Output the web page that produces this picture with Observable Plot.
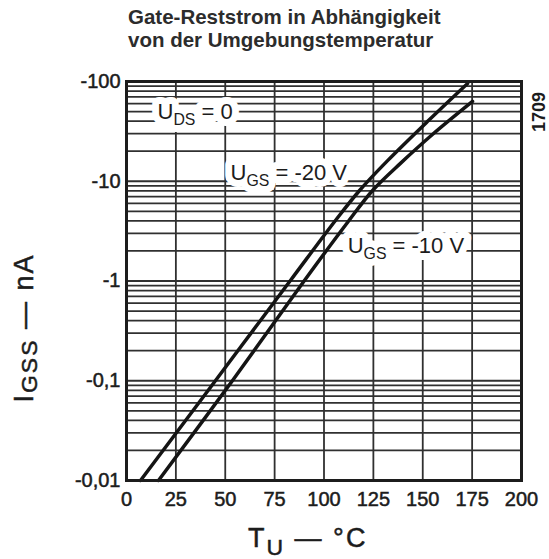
<!DOCTYPE html>
<html>
<head>
<meta charset="utf-8">
<script src="https://cdn.jsdelivr.net/npm/d3@7"></script>
<script src="https://cdn.jsdelivr.net/npm/@observablehq/plot@0.6"></script>
<style>
  html, body { margin: 0; padding: 0; background: #ffffff; }
  #chart svg { display: block; }
</style>
</head>
<body>
<div id="chart"></div>
<script>
// ---- Data ----
// Curve U_GS = -20 V
const temp20 = [7.1, 45.1, 83.0, 105.8, 118.0, 132.2, 152.9, 172.7];
const igss20 = [-0.01, -0.1006, -1.012, -4.04, -8.08, -16.1, -40.6, -95.5];
// Curve U_GS = -10 V
const temp10 = [16.2, 53.7, 90.1, 111.9, 124.6, 138.7, 154.9, 175.2];
const igss10 = [-0.01, -0.1006, -1.012, -3.86, -8.08, -15.1, -29.4, -63.1];

// Axis ticks
const xTicks = [0, 25, 50, 75, 100, 125, 150, 175, 200];
const yTicks = [-0.01, -0.1, -1, -10, -100];
const yTickLabels = ["-0,01", "-0,1", "-1", "-10", "-100"];

// In-chart labels (data coordinates)
const labelText = ["U_DS = 0", "U_GS = -20 V", "U_GS = -10 V"];
const labelTemp = [15.7, 52.7, 112];
const labelIgss = [-49, -12.2, -2.27];

// Texts
const titleLines = ["Gate-Reststrom in Abhängigkeit", "von der Umgebungstemperatur"];
const figNumber = "1709";

// ---- Build tables ----
const curve20 = temp20.map((t, i) => ({t, v: igss20[i]}));
const curve10 = temp10.map((t, i) => ({t, v: igss10[i]}));
const labels = labelText.map((s, i) => ({s, t: labelTemp[i], v: labelIgss[i]}));
const yFmt = new Map(yTicks.map((v, i) => [v, yTickLabels[i]]));
const yGrid = d3.scaleLog().domain([-0.01, -100]).ticks();

const ink = "#1c1c1c";
const gridInk = "#303030";
const font = "'Liberation Sans', Arial, sans-serif";

const svg = Plot.plot({
  width: 549,
  height: 559,
  marginTop: 81,
  marginBottom: 79,
  marginLeft: 126,
  marginRight: 28,
  style: {fontFamily: font, color: ink, background: "#ffffff"},
  x: {domain: [0, 200]},
  y: {type: "log", domain: [-0.01, -100]},
  marks: [
    Plot.ruleY(yGrid, {stroke: gridInk, strokeWidth: 1.8}),
    Plot.ruleX(xTicks, {stroke: gridInk, strokeWidth: 1.8}),
    Plot.text(labels, {x: "t", y: "v", text: "s", textAnchor: "start", fontSize: 22,
      fill: "white", stroke: "white", strokeWidth: 14, strokeLinejoin: "round"}),
    Plot.line(curve20, {x: "t", y: "v", curve: "catmull-rom", stroke: "#141414", strokeWidth: 3.5}),
    Plot.line(curve10, {x: "t", y: "v", curve: "catmull-rom", stroke: "#141414", strokeWidth: 3.5}),
    Plot.text(labels, {x: "t", y: "v", text: "s", textAnchor: "start", fontSize: 22, fill: ink}),
    Plot.frame({stroke: ink, strokeWidth: 3}),
    Plot.axisX(xTicks, {tickSize: 0, tickPadding: 11, fontSize: 20, label: null}),
    Plot.axisY(yTicks, {tickSize: 0, tickPadding: 6, fontSize: 20, label: null,
      tickFormat: d => yFmt.get(d)})
  ]
});

const root = d3.select(svg);

// Subscripts for labels of the form "U_GS = ..."
root.selectAll("text").each(function () {
  const t = this.textContent;
  const m = t.match(/^(.)_([A-Z]+)(.*)$/);
  if (m) {
    const s = d3.select(this);
    s.text(null);
    s.append("tspan").text(m[1]);
    s.append("tspan").attr("dy", 6).attr("font-size", "72%").text(m[2]);
    s.append("tspan").attr("dy", -6).text(m[3]);
  }
});

// Slightly heavier tick labels, like the printed original
root.selectAll("g[aria-label='x-axis tick label'], g[aria-label='y-axis tick label']")
  .attr("stroke", ink).attr("stroke-width", 0.5);

// Title (two lines)
const title = root.append("g")
  .attr("font-family", font).attr("text-anchor", "start")
  .attr("font-weight", "bold").attr("font-size", 20.5).attr("fill", "#2c2c2c");
titleLines.forEach((line, i) => {
  title.append("text").attr("x", 128).attr("y", 24 + i * 23).text(line);
});

// X axis label: T_U — °C
const xl = root.append("text")
  .attr("x", 248).attr("y", 547).attr("text-anchor", "start")
  .attr("font-family", font).attr("stroke", ink).attr("stroke-width", 0.5)
  .attr("font-size", 27).attr("letter-spacing", 2).attr("fill", ink);
xl.append("tspan").text("T");
xl.append("tspan").attr("dy", 8).attr("font-size", "85%").text("U");
xl.append("tspan").attr("dy", -8).text(" — °C");

// Y axis label: I_GSS — nA (rotated)
const yl = root.append("text")
  .attr("transform", "translate(33,328) rotate(-90)")
  .attr("text-anchor", "middle").attr("stroke", ink).attr("stroke-width", 0.5)
  .attr("font-family", font)
  .attr("font-size", 27).attr("letter-spacing", 2).attr("fill", ink);
yl.append("tspan").text("I");
yl.append("tspan").attr("dy", 4).attr("font-size", "85%").text("GSS");
yl.append("tspan").attr("dy", -4).text(" — nA");

// Figure number, rotated
root.append("text")
  .attr("transform", "translate(545,112) rotate(-90)")
  .attr("text-anchor", "middle")
  .attr("font-family", "'Liberation Sans Narrow', 'Liberation Sans', Arial, sans-serif")
  .attr("font-weight", "bold").attr("font-size", 18).attr("fill", ink)
  .text(figNumber);

document.getElementById("chart").appendChild(svg);
</script>
</body>
</html>
